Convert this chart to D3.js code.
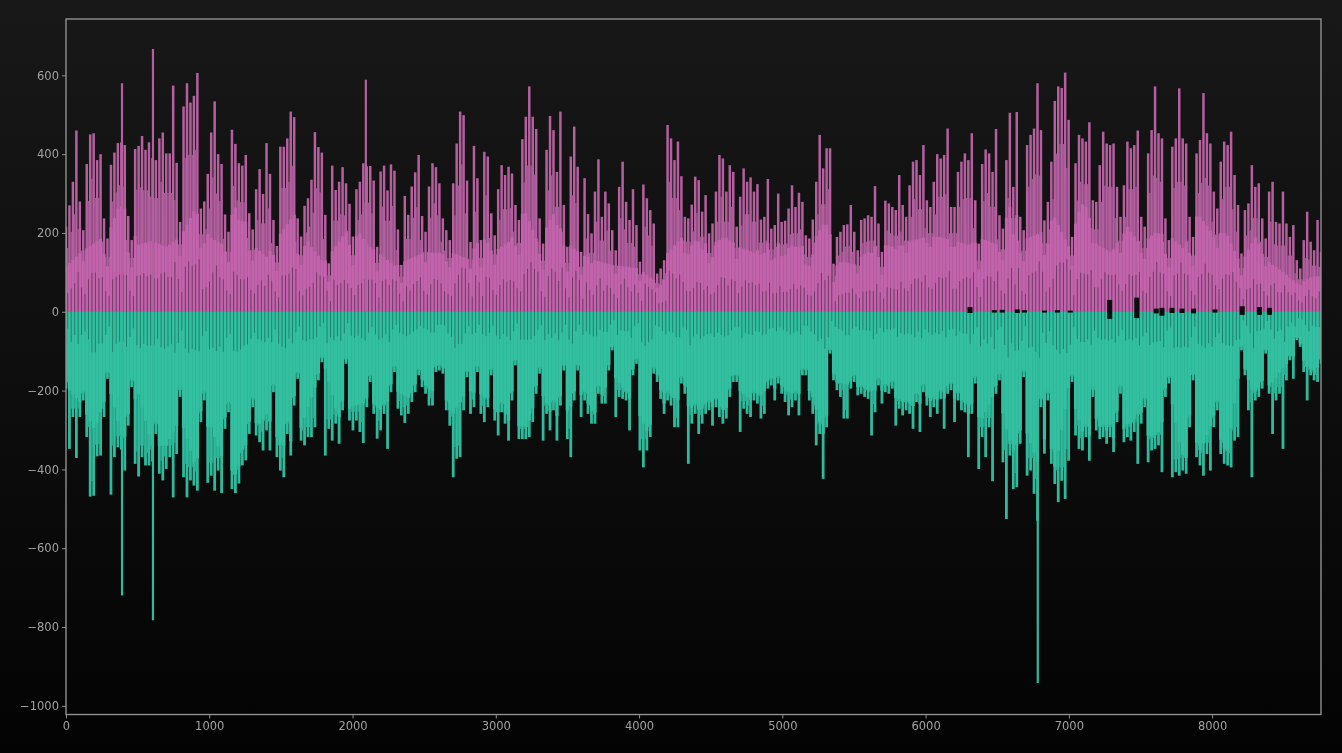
<!DOCTYPE html>
<html>
<head>
<meta charset="utf-8">
<script src="https://cdn.jsdelivr.net/npm/d3@7"></script>
<style>
html, body { margin: 0; padding: 0; background: #0c0c0c; overflow: hidden; }
svg { display: block; }
</style>
</head>
<body>
<script>
const xTicks = [0, 1000, 2000, 3000, 4000, 5000, 6000, 7000, 8000]
const yTicks = [600, 400, 200, 0, -200, -400, -600, -800, -1000]

// daily peak of the upward series
const posPeaks = [216,270,330,460,280,207,375,450,453,385,400,237,186,373,404,428,430,423,243,182,413,421,446,411,430,390,385,440,455,402,402,574,378,228,521,580,531,548,606,262,280,350,455,534,400,375,247,203,462,426,377,371,398,250,209,311,362,299,428,350,233,167,419,419,440,508,494,237,191,269,288,335,456,418,404,246,123,371,309,330,367,326,274,191,311,330,377,369,370,333,165,356,371,308,374,358,209,119,294,246,318,354,398,243,203,318,377,367,326,237,207,182,
326,427,508,499,333,177,421,339,182,406,394,250,194,311,372,347,368,351,271,233,438,495,572,495,464,237,173,411,497,461,355,508,271,165,394,470,368,152,339,248,199,305,387,241,305,275,207,156,317,381,279,233,311,220,127,323,288,258,224,97,110,131,474,440,385,432,344,241,237,272,343,334,254,296,199,224,305,398,389,305,372,355,216,292,364,330,341,305,324,234,241,337,211,220,300,228,231,262,321,266,302,279,194,186,234,330,449,364,415,415,122,190,203,220,222,271,203,156,233,237,245,241,319,224,152,282,275,266,258,347,
271,241,321,381,385,347,423,283,266,330,400,389,398,465,266,266,355,381,402,385,453,283,173,375,412,402,355,464,245,211,385,505,317,507,241,207,423,449,465,580,461,232,279,381,535,572,568,607,487,190,377,449,440,432,481,283,279,372,457,427,423,427,317,241,321,432,415,423,460,241,216,402,461,572,453,440,237,182,419,440,567,440,427,241,190,402,436,555,453,427,305,262,381,432,423,457,347,271,148,258,275,372,317,326,237,186,305,330,228,224,305,224,190,220,131,110,182,254,178,156,233,152]

// daily peak of the downward series
const negPeaks = [-195,-348,-267,-371,-267,-225,-318,-469,-467,-367,-365,-267,-170,-464,-369,-344,-350,-403,-289,-191,-386,-418,-369,-390,-390,-380,-310,-411,-428,-399,-369,-471,-361,-216,-420,-471,-428,-441,-454,-280,-225,-434,-416,-454,-403,-460,-297,-255,-450,-460,-436,-390,-377,-310,-242,-314,-331,-352,-301,-352,-204,-369,-403,-420,-310,-365,-238,-170,-327,-339,-318,-318,-293,-174,-128,-365,-297,-327,-284,-335,-250,-132,-276,-301,-276,-305,-333,-242,-178,-259,-322,-301,-259,-348,-204,-153,-246,-263,-282,-259,-229,-204,-161,-191,-208,-238,-238,-153,-149,-157,-250,
-289,-420,-373,-369,-250,-166,-259,-242,-153,-259,-280,-242,-161,-276,-314,-255,-284,-327,-225,-136,-323,-323,-323,-318,-280,-208,-157,-327,-259,-301,-250,-327,-238,-149,-323,-369,-225,-149,-267,-225,-259,-284,-284,-208,-233,-233,-149,-98,-267,-216,-221,-225,-301,-161,-132,-352,-395,-352,-318,-157,-178,-221,-259,-225,-238,-293,-293,-182,-208,-386,-284,-259,-310,-284,-259,-250,-289,-242,-267,-284,-271,-216,-178,-178,-305,-246,-259,-267,-225,-233,-271,-259,-195,-187,-225,-182,-208,-229,-263,-242,-225,-263,-161,-161,-225,-259,-339,-310,-424,-293,-106,-174,-199,-216,-271,-271,-195,-178,-212,-208,-216,-221,-314,-255,-187,-233,-204,-208,-195,-289,
-246,-263,-250,-259,-297,-229,-305,-204,-238,-267,-242,-259,-221,-297,-208,-199,-280,-225,-250,-255,-369,-259,-182,-399,-318,-369,-293,-430,-208,-174,-382,-526,-365,-450,-445,-335,-166,-416,-403,-462,-530,-242,-360,-225,-386,-437,-483,-429,-475,-378,-178,-314,-348,-352,-318,-378,-216,-301,-323,-318,-335,-318,-356,-280,-208,-331,-318,-327,-305,-386,-284,-242,-382,-352,-348,-339,-407,-216,-182,-420,-407,-416,-403,-411,-293,-174,-369,-390,-416,-361,-403,-293,-250,-361,-386,-390,-395,-327,-318,-98,-161,-250,-420,-225,-216,-195,-106,-208,-310,-225,-208,-348,-174,-123,-170,-72,-89,-153,-225,-161,-174,-178,-132]

// bright dense part of each series, one reading every 100 hours
const coreStep = 100
const posCore = [115,150,175,200,300,170,180,165,190,260,190,170,300,170,140,200,250,170,125,175,230,170,145,115,135,150,150,150,135,190,155,180,260,170,250,175,145,130,120,115,110,80,150,190,180,170,190,165,150,175,175,165,170,230,130,120,160,170,165,180,190,190,180,170,185,170,280,185,200,240,165,290,170,150,220,170,200,195,160,250,200,200,120,190,125,100,70,90,90]
const negCore = [-190,-230,-300,-190,-330,-200,-340,-340,-270,-390,-280,-380,-420,-310,-260,-340,-340,-230,-130,-270,-240,-230,-250,-200,-220,-190,-210,-260,-200,-210,-250,-280,-320,-190,-270,-250,-210,-270,-150,-200,-260,-340,-210,-230,-250,-240,-250,-200,-230,-190,-200,-210,-200,-330,-180,-190,-200,-200,-220,-240,-230,-220,-220,-260,-270,-190,-360,-300,-400,-410,-190,-310,-320,-330,-300,-250,-370,-190,-390,-370,-280,-380,-120,-220,-190,-140,-100,-160,-130]

// single hours that stand out from the rest
const outlierHours = [391, 607, 2093, 6783]
const outlierLows = [-720, -783, 0, -942]
const outlierHighs = [580, 667, 589, 0]

// places near zero where both series are almost empty
const quietHours = [6310, 6480, 6535, 6640, 6690, 6830, 6920, 7010, 7285, 7474, 7610, 7650, 7720, 7790, 7870, 8020, 8210, 8330, 8400]
const quietTops = [12, 4, 5, 6, 4, 3, 4, 3, 30, 36, 8, 10, 10, 8, 8, 6, 14, 12, 10]
const quietBottoms = [-3, -2, -2, -3, -2, -2, -2, -2, -18, -16, -4, -10, -3, -3, -4, -2, -8, -8, -8]

const width = 1342
const height = 753
const plot = { left: 66, right: 1321, top: 19, bottom: 714.5 }

const x = d3.scaleLinear().domain([0, 8760]).range([plot.left, plot.right])
const y = d3.scaleLinear().domain([743, -1022]).range([plot.top, plot.bottom])

const svg = d3.select('body').append('svg')
    .attr('width', width)
    .attr('height', height)

const defs = svg.append('defs')

const bg = defs.append('linearGradient').attr('id', 'bg')
    .attr('x1', 0).attr('x2', 0).attr('y1', 0).attr('y2', 1)
bg.append('stop').attr('offset', '0%').attr('stop-color', '#181818')
bg.append('stop').attr('offset', '100%').attr('stop-color', '#030303')

defs.append('filter').attr('id', 'soft')
    .attr('filterUnits', 'userSpaceOnUse')
    .attr('x', 0).attr('y', 0).attr('width', width).attr('height', height)
    .append('feGaussianBlur').attr('stdDeviation', 0.65)

defs.append('clipPath').attr('id', 'plotClip').append('rect')
    .attr('x', plot.left).attr('y', plot.top)
    .attr('width', plot.right - plot.left).attr('height', plot.bottom - plot.top)

svg.append('rect').attr('width', width).attr('height', height).attr('fill', 'url(#bg)')

const chart = svg.append('g').attr('filter', 'url(#soft)')
const marks = chart.append('g').attr('clip-path', 'url(#plotClip)')

const posColor = '#b4609f'
const posBright = '#c263ac'
const negColor = '#2fbb9c'
const negBright = '#32c0a0'

const hourOf = (i, n) => i * 8760 / (n - 1)

const coreHours = posCore.map((d, i) => Math.min(i * coreStep, 8760))
const posCap = d3.scaleLinear().domain(coreHours).range(posCore)
const negCap = d3.scaleLinear().domain(coreHours).range(negCore)

// one series: spikes, the filled valleys between them, the bright body, slack lines
function drawSeries(peaks, cap, opts) {
    const n = peaks.length
    const g = marks.append('g')
    const bar = (sel, hour, value, w, color) => sel
        .attr('x', (d, i) => x(hour(i)) - w / 2)
        .attr('width', w)
        .attr('y', (d, i) => Math.min(y(0), y(value(d, i))))
        .attr('height', (d, i) => Math.abs(y(value(d, i)) - y(0)))
        .attr('fill', color)

    g.append('g').selectAll('rect').data(peaks).enter().append('rect')
        .call(bar, i => hourOf(i, n), d => d, opts.spikeWidth, opts.color)

    // valley between day i and day i+1, a darker stripe
    g.append('g').selectAll('rect').data(peaks.slice(0, -1)).enter().append('rect')
        .call(bar, i => hourOf(i + 0.5, n),
            (d, i) => opts.sign * Math.min(Math.abs(d), Math.abs(peaks[i + 1])) * opts.valley,
            opts.valleyWidth, opts.valleyColor)

    // bright body, capped by the reading of the dense part
    g.append('g').selectAll('rect').data(peaks).enter().append('rect')
        .call(bar, i => hourOf(i, n),
            (d, i) => opts.sign * Math.min(Math.abs(cap(hourOf(i, n))), Math.abs(d) * opts.body),
            opts.bodyWidth, opts.bright)

    g.append('g').selectAll('line').data(peaks).enter().append('line')
        .attr('x1', (d, i) => x(hourOf(i + 0.5, n)))
        .attr('x2', (d, i) => x(hourOf(i + 0.5, n)))
        .attr('y1', y(0))
        .attr('y2', d => y(d * 0.22))
        .attr('stroke', opts.slack)
        .attr('stroke-opacity', 0.6)
        .attr('stroke-width', 0.8)
}

drawSeries(posPeaks, posCap, {
    sign: 1, spikeWidth: 2.5, valley: 0.75, valleyWidth: 1.6, body: 0.62, bodyWidth: 3,
    color: posColor, valleyColor: '#a25693', bright: posBright, slack: '#2a1a2a'
})
drawSeries(negPeaks, negCap, {
    sign: -1, spikeWidth: 2.8, valley: 0.92, valleyWidth: 1.6, body: 0.9, bodyWidth: 3.2,
    color: negColor, valleyColor: '#2ba98e', bright: negBright, slack: '#0f4a42'
})

// outliers
marks.append('g').selectAll('line')
    .data(outlierHours)
    .enter()
    .append('line')
    .attr('x1', d => x(d))
    .attr('x2', d => x(d))
    .attr('y1', (d, i) => y(outlierLows[i]))
    .attr('y2', y(0))
    .attr('stroke', negColor)
    .attr('stroke-width', 2.2)

marks.append('g').selectAll('line')
    .data(outlierHours)
    .enter()
    .append('line')
    .attr('x1', d => x(d))
    .attr('x2', d => x(d))
    .attr('y1', (d, i) => y(outlierHighs[i]))
    .attr('y2', y(0))
    .attr('stroke', posColor)
    .attr('stroke-width', 2.2)

// quiet spots
marks.append('g').selectAll('rect')
    .data(quietHours)
    .enter()
    .append('rect')
    .attr('x', d => x(d) - 2.5)
    .attr('width', 5)
    .attr('y', (d, i) => y(quietTops[i]))
    .attr('height', (d, i) => y(quietBottoms[i]) - y(quietTops[i]))
    .attr('fill', '#0b0b0b')

// axes
const tickText = d => d < 0 ? '\u2212' + (-d) : String(d)
const xAxis = d3.axisBottom(x).tickValues(xTicks).tickSize(4).tickSizeOuter(0).tickFormat(tickText)
const yAxis = d3.axisLeft(y).tickValues(yTicks).tickSize(4).tickSizeOuter(0).tickFormat(tickText)

const gx = chart.append('g').attr('transform', `translate(0,${plot.bottom})`).call(xAxis)
const gy = chart.append('g').attr('transform', `translate(${plot.left},0)`).call(yAxis)

for (const g of [gx, gy]) {
    g.select('.domain').remove()
    g.selectAll('line').attr('stroke', '#8c8c8c').attr('stroke-width', 1)
    g.selectAll('text')
        .attr('fill', '#a0a0a0')
        .attr('font-family', '"DejaVu Sans", sans-serif')
        .attr('font-size', 11.5)
}

chart.append('rect')
    .attr('x', plot.left).attr('y', plot.top)
    .attr('width', plot.right - plot.left).attr('height', plot.bottom - plot.top)
    .attr('fill', 'none')
    .attr('stroke', '#909090')
    .attr('stroke-width', 1.4)
</script>
</body>
</html>
